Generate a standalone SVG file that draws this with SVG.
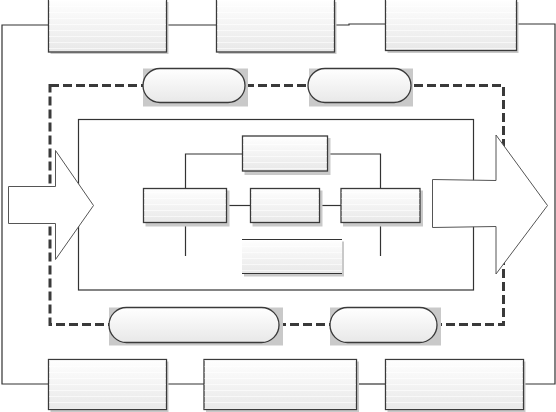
<svg xmlns="http://www.w3.org/2000/svg" width="556" height="412" viewBox="0 0 556 412">
<defs>
<linearGradient id="g" x1="0" y1="0" x2="0" y2="1">
<stop offset="0" stop-color="#ffffff"/>
<stop offset="1" stop-color="#e8e8e8"/>
</linearGradient>
<pattern id="st" width="10" height="6" patternUnits="userSpaceOnUse">
<rect x="0" y="0" width="10" height="1" fill="#ffffff" fill-opacity="0.6"/>
</pattern>
</defs>
<style>
.sh{fill:#c9c9c9}
.bx{fill:url(#g);stroke:#3a3a3a;stroke-width:1.3}
.ov{fill:url(#st)}
.ln{fill:none;stroke:#333;stroke-width:1.2}
.dl{fill:none;stroke:#3a3a3a;stroke-width:3;stroke-dasharray:9,4}
.ar{fill:#fff;stroke:#555;stroke-width:1}
</style>
<rect width="556" height="412" fill="#fff"/>
<g id="connectors">
<polyline class="ln" points="48,25 2,25 2,384 48,384"/>
<line class="ln" x1="166" y1="25" x2="216" y2="25"/>
<polyline class="ln" points="334,25 349,25 349,24 385,24"/>
<polyline class="ln" points="516,24 555,24 555,384 523,384"/>
<line class="ln" x1="166" y1="384" x2="204" y2="384"/>
<line class="ln" x1="356" y1="384" x2="385" y2="384"/>
<rect class="dl" x="50" y="85.5" width="453.5" height="239"/>
<rect class="ln" x="78.5" y="119.5" width="395" height="170.5"/>
<polyline class="ln" points="242,154 185.5,154 185.5,188"/>
<line class="ln" x1="185.5" y1="222" x2="185.5" y2="256"/>
<line class="ln" x1="226" y1="205.5" x2="251" y2="205.5"/>
<line class="ln" x1="319" y1="205.5" x2="341" y2="205.5"/>
<polyline class="ln" points="327,154 380.5,154 380.5,188"/>
<line class="ln" x1="380.5" y1="222" x2="380.5" y2="256"/>
</g>
<g id="arrow-left"><polygon class="ar" points="8.5,186.5 55.5,186.5 55.5,150.5 93.5,205.5 55.5,259.5 55.5,223.5 8.5,223.5"/></g>
<g id="arrow-right"><polygon class="ar" points="432.5,179.5 496,180.5 496,135 547.5,205.5 496,274 496,226.5 432.5,227.5"/></g>
<g id="box-top-1"><rect class="sh" x="50.5" y="2" width="118" height="52"/><rect class="bx" x="48.5" y="-1" width="118" height="53"/><rect class="ov" x="49" y="0" width="117" height="51"/></g>
<g id="box-top-2"><rect class="sh" x="218.5" y="2" width="118" height="52"/><rect class="bx" x="216.5" y="-1" width="118" height="53"/><rect class="ov" x="217" y="0" width="117" height="51"/></g>
<g id="box-top-3"><rect class="sh" x="387.5" y="2" width="131" height="51"/><rect class="bx" x="385.5" y="-1" width="131" height="51.5"/><rect class="ov" x="386" y="0" width="130" height="50"/></g>
<g id="pill-top-1"><rect class="sh" x="143" y="68.5" width="105" height="38"/><rect class="bx" x="143" y="68.5" width="102" height="34" rx="17"/></g>
<g id="pill-top-2"><rect class="sh" x="309" y="68.5" width="104" height="38"/><rect class="bx" x="308" y="68.5" width="103" height="34" rx="17"/></g>
<g id="node-top"><rect class="sh" x="244.5" y="138" width="86" height="37"/><rect class="bx" x="242.5" y="136" width="85" height="35"/><rect class="ov" x="243" y="137" width="84" height="33"/></g>
<g id="node-left"><rect class="sh" x="145.5" y="190.5" width="84" height="36"/><rect class="bx" x="143.5" y="188.5" width="83" height="34"/><rect class="ov" x="144" y="189" width="82" height="33"/></g>
<g id="node-mid"><rect class="sh" x="252.5" y="190.5" width="70" height="36"/><rect class="bx" x="250.5" y="188.5" width="69" height="34"/><rect class="ov" x="251" y="189" width="68" height="33"/></g>
<g id="node-right"><rect class="sh" x="343" y="190.5" width="80" height="36"/><rect class="bx" x="341" y="188.5" width="79" height="34"/><rect class="ov" x="341.5" y="189" width="78" height="33"/></g>
<g id="node-bottom"><rect class="sh" x="244" y="241.5" width="100" height="35"/><rect x="242" y="239.5" width="100" height="34" fill="url(#g)"/><rect class="ov" x="242" y="240" width="100" height="33"/><line class="ln" x1="242" y1="239.5" x2="342" y2="239.5"/><line class="ln" x1="242" y1="273.5" x2="342" y2="273.5"/></g>
<g id="pill-bottom-1"><rect class="sh" x="109" y="307.5" width="174" height="38"/><rect class="bx" x="109" y="307.5" width="170" height="35" rx="17.5"/></g>
<g id="pill-bottom-2"><rect class="sh" x="330" y="307.5" width="111" height="38"/><rect class="bx" x="330" y="307.5" width="107" height="35" rx="17.5"/></g>
<g id="box-bottom-1"><rect class="sh" x="50.5" y="361.5" width="118" height="51"/><rect class="bx" x="48.5" y="359.5" width="118" height="50"/><rect class="ov" x="49" y="360" width="117" height="49"/></g>
<g id="box-bottom-2"><rect class="sh" x="206" y="361.5" width="153" height="51"/><rect class="bx" x="204" y="359.5" width="152.5" height="50"/><rect class="ov" x="204.5" y="360" width="151.5" height="49"/></g>
<g id="box-bottom-3"><rect class="sh" x="387.5" y="361.5" width="138" height="51"/><rect class="bx" x="385.5" y="359.5" width="138" height="50"/><rect class="ov" x="386" y="360" width="137" height="49"/></g>
</svg>
